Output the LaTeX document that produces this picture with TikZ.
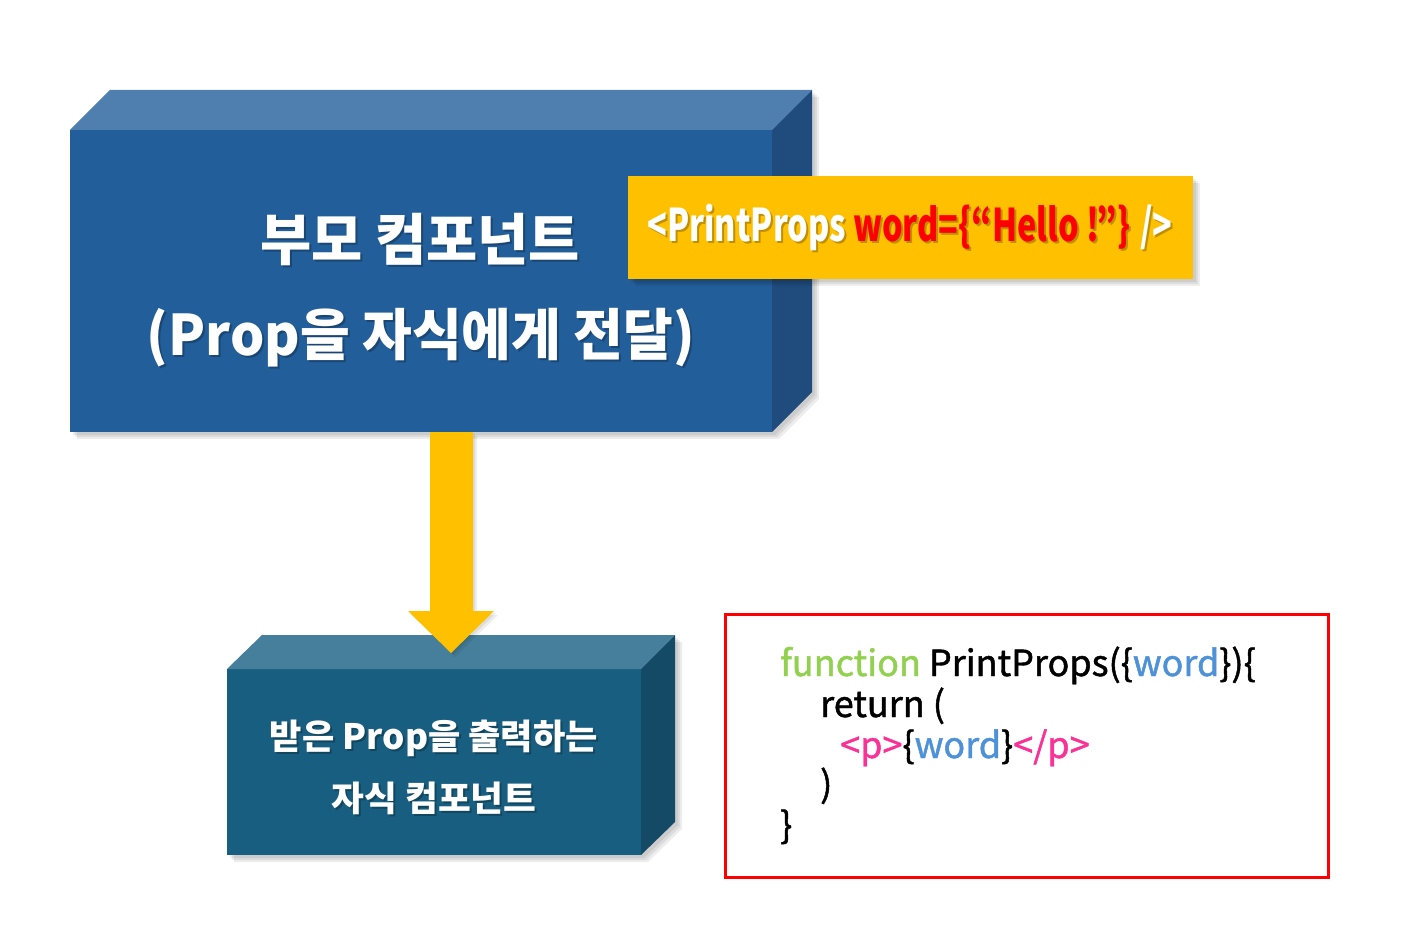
\documentclass[tikz,border=0pt]{standalone}
\usepackage{fontspec}
\usepackage{graphicx}
\setmainfont{Noto Sans CJK KR}
\newfontfamily\codefont{Noto Sans CJK KR}[FakeBold=1.3]
\usetikzlibrary{calc}
\definecolor{bigfront}{RGB}{34,94,153}
\definecolor{bigtop}{RGB}{78,127,174}
\definecolor{bigside}{RGB}{31,76,125}
\definecolor{smfront}{RGB}{24,94,128}
\definecolor{smtop}{RGB}{69,127,156}
\definecolor{smside}{RGB}{21,74,102}
\definecolor{gold}{RGB}{255,192,0}
\definecolor{codegreen}{RGB}{146,208,80}
\definecolor{codeblue}{RGB}{77,145,216}
\definecolor{codepink}{RGB}{250,50,150}
\newcommand\hw[2]{\resizebox{#1}{\height}{#2}}
\tikzset{
  txt/.style={inner sep=0pt, text=white, font=\bfseries},
  tshadow/.style={inner sep=0pt, text=black, text opacity=0.25, font=\bfseries},
  code/.style={inner sep=0pt, anchor=base west, font=\codefont\fontsize{36}{40}\selectfont},
  shade1/.style={fill=black, fill opacity=0.07, draw=none},
}
\begin{document}
\begin{tikzpicture}[x=1pt,y=-1pt]
\useasboundingbox (0,0) rectangle (1414,944);
% ---------- big parent box ----------
\foreach \d in {3,5,7}{
  \fill[shade1] (70+\d,130+\d) -- (110+\d,90+\d) -- (812+\d,90+\d) -- (812+\d,392+\d) -- (772+\d,432+\d) -- (70+\d,432+\d) -- cycle;
}
\fill[bigfront] (70,130) rectangle (772,432);
\fill[bigtop] (70,130) -- (110,90) -- (812,90) -- (772,130) -- cycle;
\fill[bigside] (772,130) -- (812,90) -- (812,392) -- (772,432) -- cycle;
\node[tshadow, font=\fontsize{56}{60}\bfseries] (p1s) at (422,242) {\hw{320pt}{부모 컴포넌트}};
\node[tshadow, font=\fontsize{56}{60}\bfseries] (p2s) at (423,340) {\hw{548pt}{(Prop을 자식에게 전달)}};
\node[txt, font=\fontsize{56}{60}\bfseries] (p1) at (420,240) {\hw{320pt}{부모 컴포넌트}};
\node[txt, font=\fontsize{56}{60}\bfseries] (p2) at (421,338) {\hw{548pt}{(Prop을 자식에게 전달)}};
% ---------- yellow label ----------
\foreach \d in {3,5,7}{
  \fill[shade1] (628+\d,176+\d) rectangle (1193+\d,279+\d);
}
\fill[gold] (628,176) rectangle (1193,279);
\node[tshadow, font=\fontsize{45}{50}\bfseries] (labs) at (912,229) {\hw{525pt}{<PrintProps word=\{“Hello !”\} />}};
\node[txt, font=\fontsize{45}{50}\bfseries] (lab) at (910,227) {\hw{525pt}{<PrintProps \textcolor{red}{word=\{“Hello !”\}} />}};
% ---------- child box ----------
\foreach \d in {3,5,7}{
  \fill[shade1] (227+\d,669+\d) -- (262+\d,635+\d) -- (675+\d,635+\d) -- (675+\d,822+\d) -- (641+\d,855+\d) -- (227+\d,855+\d) -- cycle;
}
\fill[smfront] (227,669) rectangle (641,855);
\fill[smtop] (227,669) -- (262,635) -- (675,635) -- (641,669) -- cycle;
\fill[smside] (641,669) -- (675,635) -- (675,822) -- (641,855) -- cycle;
\node[tshadow, font=\fontsize{35}{40}\bfseries] (c1s) at (436,740) {\hw{328pt}{받은 Prop을 출력하는}};
\node[tshadow, font=\fontsize{35}{40}\bfseries] (c2s) at (436,800) {\hw{205pt}{자식 컴포넌트}};
\node[txt, font=\fontsize{35}{40}\bfseries] (c1) at (434,738) {\hw{328pt}{받은 Prop을 출력하는}};
\node[txt, font=\fontsize{35}{40}\bfseries] (c2) at (434,798) {\hw{205pt}{자식 컴포넌트}};
% ---------- arrow ----------
\coordinate (aTop) at (451,432);
\coordinate (aTip) at (451,653);
\foreach \d in {2,4}{
  \fill[shade1] ($(aTop)+(-21+\d,\d)$) -- ($(aTop)+(22+\d,\d)$) -- ($(aTip)+(22+\d,-42+\d)$) -- ($(aTip)+(43+\d,-42+\d)$) -- ($(aTip)+(\d,\d)$) -- ($(aTip)+(-43+\d,-42+\d)$) -- ($(aTip)+(-21+\d,-42+\d)$) -- cycle;
}
\fill[gold] ($(aTop)+(-21,0)$) -- ($(aTop)+(22,0)$) -- ($(aTip)+(22,-42)$) -- ($(aTip)+(43,-42)$) -- (aTip) -- ($(aTip)+(-43,-42)$) -- ($(aTip)+(-21,-42)$) -- cycle;
% ---------- code box ----------
\draw[red, line width=3pt] (725,614) rectangle (1328,877);
\node[code] (l1) at (780,676) {\textcolor{codegreen}{function} PrintProps(\{\textcolor{codeblue}{word}\})\{};
\node[code] (l2) at (820,717) {return (};
\node[code] (l3) at (840,758) {\textcolor{codepink}{<p>}\{\textcolor{codeblue}{word}\}\textcolor{codepink}{</p>}};
\node[code] (l4) at (820,797) {)};
\node[code] (l5) at (780,838) {\}};
\end{tikzpicture}
\end{document}
